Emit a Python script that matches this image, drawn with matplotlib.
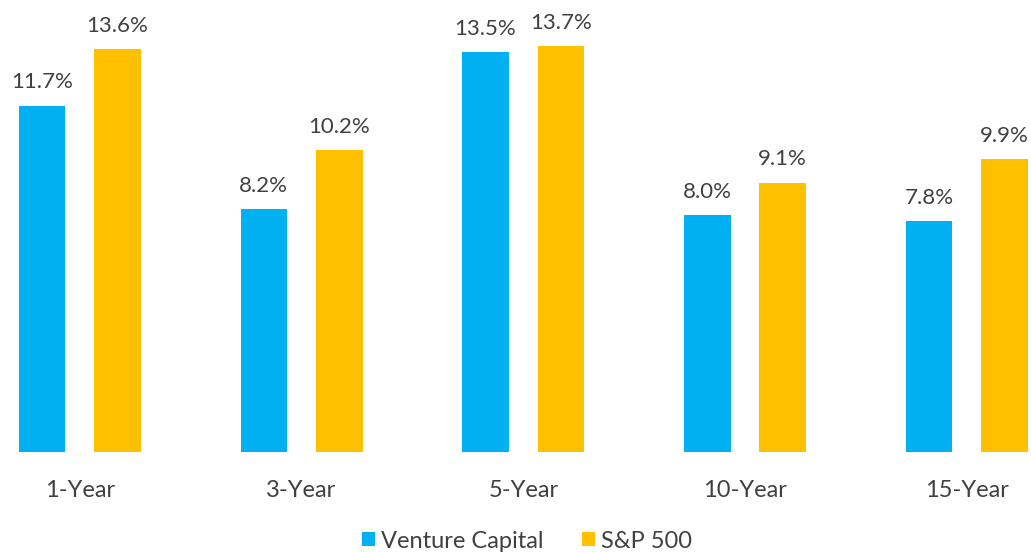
import numpy as np
import matplotlib.pyplot as plt

plt.rcParams['font.family'] = ['Lato', 'DejaVu Sans']

periods = ["1-Year", "3-Year", "5-Year", "10-Year", "15-Year"]
venture_capital = [11.7, 8.2, 13.5, 8.0, 7.8]
sp500 = [13.6, 10.2, 13.7, 9.1, 9.9]

vc_color = "#00B0F0"
sp_color = "#FFC000"
txt_color = "#404040"

fig = plt.figure(figsize=(10.31, 5.52), dpi=100, facecolor="white")
ax = fig.add_axes([0, 100/552, 1, 452/552])

x = np.arange(len(periods))
w = 0.21
off = 0.17
b1 = ax.bar(x - off, venture_capital, w, color=vc_color, label="Venture Capital")
b2 = ax.bar(x + off, sp500, w, color=sp_color, label="S&P 500")

for bars, vals in ((b1, venture_capital), (b2, sp500)):
    for b, v in zip(bars, vals):
        ax.text(b.get_x() + b.get_width()/2, v + 0.45, f"{v:.1f}%",
                ha="center", va="bottom", fontsize=16, color=txt_color)

ax.set_xlim(-0.36, 4.29)
ax.set_ylim(0, 15.27)
ax.set_xticks(x)
ax.set_xticklabels(periods, fontsize=17, color=txt_color)
ax.tick_params(axis="x", length=0, pad=20)
ax.set_yticks([])
for s in ax.spines.values():
    s.set_visible(False)

fig.legend(handles=[b1, b2], loc="center", bbox_to_anchor=(527/1031, 1 - 541/552),
           ncol=2, frameon=False, fontsize=17, labelcolor=txt_color,
           handlelength=0.55, handleheight=0.55, handletextpad=0.25, columnspacing=1.6)

plt.savefig("out.png", dpi=100)
